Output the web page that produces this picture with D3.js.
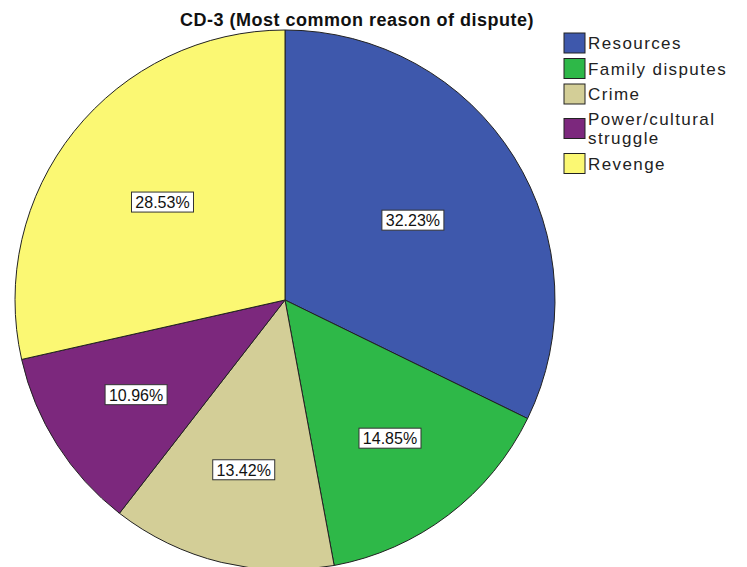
<!DOCTYPE html>
<html>
<head>
<meta charset="utf-8">
<script src="https://cdn.jsdelivr.net/npm/d3@7"></script>
<style>
  body { margin: 0; background: #fff; }
  svg { display: block; font-family: "Liberation Sans", Arial, sans-serif; }
</style>
</head>
<body>
<svg id="chart" width="747" height="567"></svg>
<script>
// data
const categories = ["Resources", "Family disputes", "Crime", "Power/cultural struggle", "Revenge"];
const legendLines = [["Resources"], ["Family disputes"], ["Crime"], ["Power/cultural", "struggle"], ["Revenge"]];
const percents = [32.23, 14.85, 13.42, 10.96, 28.53];
const colors = ["#3e58ac", "#2eb848", "#d3ce97", "#7c287d", "#fbf873"];

const svg = d3.select("#chart");
const cx = 285, cy = 300, R = 270;

svg.append("text")
    .attr("x", 357).attr("y", 26)
    .attr("text-anchor", "middle")
    .attr("font-size", 18).attr("font-weight", "bold")
    .attr("letter-spacing", 0.5)
    .attr("fill", "#111")
    .text("CD-3 (Most common reason of dispute)");

const pie = d3.pie().sort(null).value(d => d);
const arc = d3.arc().innerRadius(0).outerRadius(R);
const arcs = pie(percents);

const g = svg.append("g").attr("transform", `translate(${cx},${cy})`);

g.selectAll("path")
    .data(arcs)
    .enter()
    .append("path")
    .attr("d", arc)
    .attr("fill", (d, i) => colors[i])
    .attr("stroke", "#222")
    .attr("stroke-width", 1);

// labels at sector centroid
const labels = g.selectAll("g.lbl")
    .data(arcs)
    .enter()
    .append("g")
    .attr("class", "lbl")
    .attr("transform", d => {
        const th = d.endAngle - d.startAngle;
        const rc = 4 * R * Math.sin(th / 2) / (3 * th);
        const a = (d.startAngle + d.endAngle) / 2;
        return `translate(${rc * Math.sin(a)},${-rc * Math.cos(a)})`;
    });

labels.append("rect")
    .attr("x", -31).attr("y", -10)
    .attr("width", 62).attr("height", 20)
    .attr("fill", "#fff")
    .attr("stroke", "#333");

labels.append("text")
    .attr("text-anchor", "middle")
    .attr("y", 6)
    .attr("font-size", 16)
    .attr("fill", "#111")
    .text(d => d.data.toFixed(2) + "%");

// legend
const legendY = [43, 68.5, 94, 128.5, 163.5];
const leg = svg.append("g").attr("transform", "translate(564,0)");
const items = leg.selectAll("g")
    .data(categories)
    .enter()
    .append("g")
    .attr("transform", (d, i) => `translate(0,${legendY[i]})`);

items.append("rect")
    .attr("x", 0).attr("y", -10)
    .attr("width", 21).attr("height", 20)
    .attr("fill", (d, i) => colors[i])
    .attr("stroke", "#222");

items.each(function (d, i) {
    const lines = legendLines[i];
    lines.forEach((ln, j) => {
        d3.select(this).append("text")
            .attr("x", 24)
            .attr("y", 6 + (j - (lines.length - 1) / 2) * 19)
            .attr("font-size", 17)
            .attr("letter-spacing", 1.4)
            .attr("fill", "#222")
            .text(ln);
    });
});
</script>
</body>
</html>
